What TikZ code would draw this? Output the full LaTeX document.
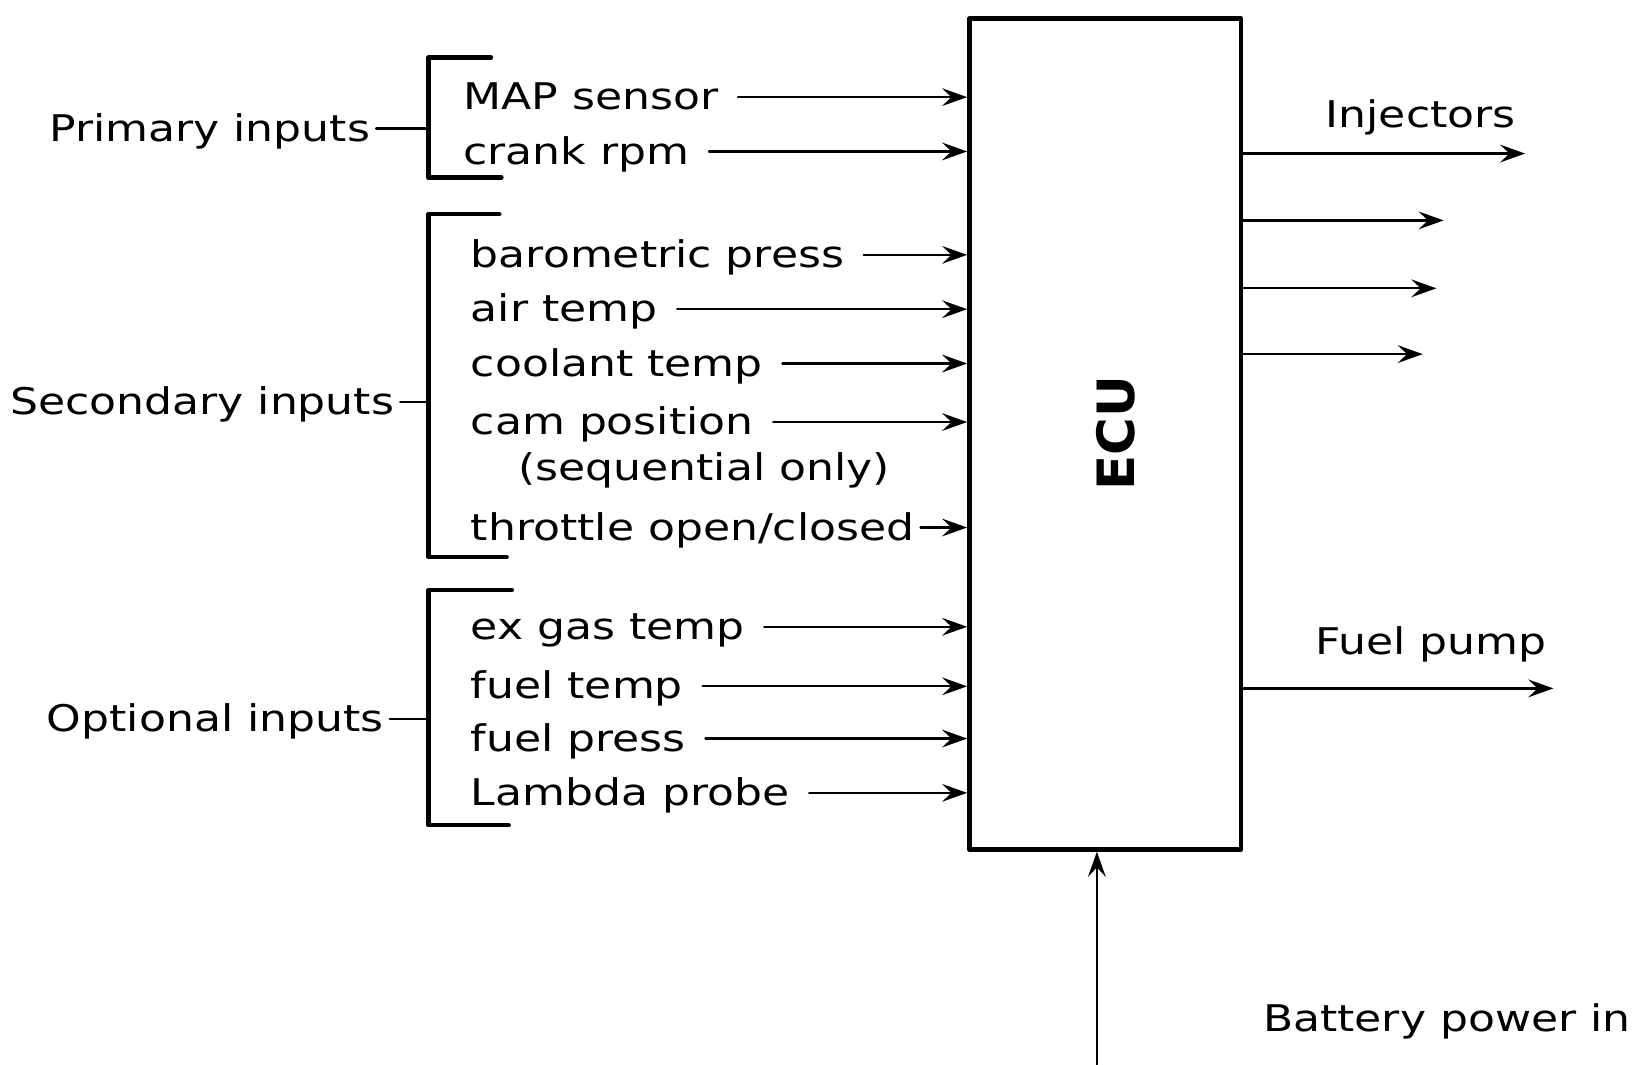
\documentclass[tikz,border=0pt]{standalone}
\usepackage{fontspec}
\setmainfont{DejaVu Sans}[FakeStretch=1.2]
\newfontfamily\ecufont{DejaVu Sans}
\usetikzlibrary{arrows.meta,calc,positioning}

\begin{document}
\begin{tikzpicture}[x=0.01cm,y=-0.01cm,line cap=round,line join=round,
    every node/.style={font=\fontsize{10}{12}\selectfont},
    sensor/.style={anchor=west,inner sep=0pt,text height=1.5ex,text depth=.25ex},
    group/.style={anchor=east,inner sep=0pt,text height=1.5ex,text depth=.25ex},
    sig/.style={line width=0.6pt,-{Stealth[length=2.4mm,width=1.7mm,inset=0.9mm]}},
    feed/.style={sig,shorten <=1.8mm},
    brace/.style={line width=1.2pt}]
	\useasboundingbox (0,0) rectangle (1568,1019);
	% control unit
	\node[draw,line width=1.2pt,minimum width=2.6cm,minimum height=7.95cm,inner sep=0pt] (ecu) at (1058,415.5) {};
	\node[rotate=90,font=\ecufont\bfseries\fontsize{14}{17}\selectfont] (ecutxt) at (1068,415) {ECU};

	% primary inputs
	\draw[brace] (470,55) -- (410,55) -- (410,170) -- (480,170);
	\coordinate (primbr) at (410,123);
	\node[group] (prim) at (355,123) {Primary inputs};
	\draw[line width=0.6pt] ([xshift=0.5mm]prim.east) -- (primbr);
	\node[sensor] (map) at (443,93) {MAP sensor};
	\node[sensor] (crank) at (443,145) {crank rpm};
	\draw[feed] (map.east) -- (map.east -| ecu.west);
	\draw[feed] (crank.east) -- (crank.east -| ecu.west);

	% secondary inputs
	\draw[brace] (478,205) -- (410,205) -- (410,533) -- (485,533);
	\coordinate (secbr) at (410,385);
	\node[group] (sec) at (378,385) {Secondary inputs};
	\draw[line width=0.6pt] ([xshift=0.5mm]sec.east) -- (secbr);
	\node[sensor] (baro) at (450,244) {barometric press};
	\node[sensor] (air) at (450,296) {air temp};
	\node[sensor] (coolant) at (450,348) {coolant temp};
	\node[sensor] (cam) at (450,404) {cam position};
	\node[inner sep=0pt] (seq) at (674,450) {(sequential only)};
	\node[sensor] (throttle) at (450,505) {throttle open/closed};
	\draw[feed] (baro.east) -- (baro.east -| ecu.west);
	\draw[feed] (air.east) -- (air.east -| ecu.west);
	\draw[feed] (coolant.east) -- (coolant.east -| ecu.west);
	\draw[feed] (cam.east) -- (cam.east -| ecu.west);
	\draw[sig,shorten <=0.5mm] (throttle.east) -- (throttle.east -| ecu.west);

	% optional inputs
	\draw[brace] (490,565) -- (410,565) -- (410,790) -- (487,790);
	\coordinate (optbr) at (410,688);
	\node[group] (opt) at (368,688) {Optional inputs};
	\draw[line width=0.6pt] ([xshift=0.5mm]opt.east) -- (optbr);
	\node[sensor] (exgas) at (450,600) {ex gas temp};
	\node[sensor] (ftemp) at (450,657) {fuel temp};
	\node[sensor] (fpress) at (450,707) {fuel press};
	\node[sensor] (lambda) at (450,759) {Lambda probe};
	\draw[feed] (exgas.east) -- (exgas.east -| ecu.west);
	\draw[feed] (ftemp.east) -- (ftemp.east -| ecu.west);
	\draw[feed] (fpress.east) -- (fpress.east -| ecu.west);
	\draw[feed] (lambda.east) -- (lambda.east -| ecu.west);

	% outputs
	\node (injlbl) at (1360,112) {Injectors};
	\coordinate (inj1) at (1460,147);
	\coordinate (inj2) at (1382,211);
	\coordinate (inj3) at (1375,276);
	\coordinate (inj4) at (1362,339);
	\draw[sig] (inj1 -| ecu.east) -- (inj1);
	\draw[sig] (inj2 -| ecu.east) -- (inj2);
	\draw[sig] (inj3 -| ecu.east) -- (inj3);
	\draw[sig] (inj4 -| ecu.east) -- (inj4);
	\node (pumplbl) at (1370,617) {Fuel pump};
	\coordinate (pump) at (1487,659);
	\draw[sig] (pump -| ecu.east) -- (pump);

	% supply
	\coordinate (batt) at (1050,1019);
	\node (battlbl) at (1385,978) {Battery power in};
	\draw[sig] (batt) -- (batt |- ecu.south);
\end{tikzpicture}
\end{document}
